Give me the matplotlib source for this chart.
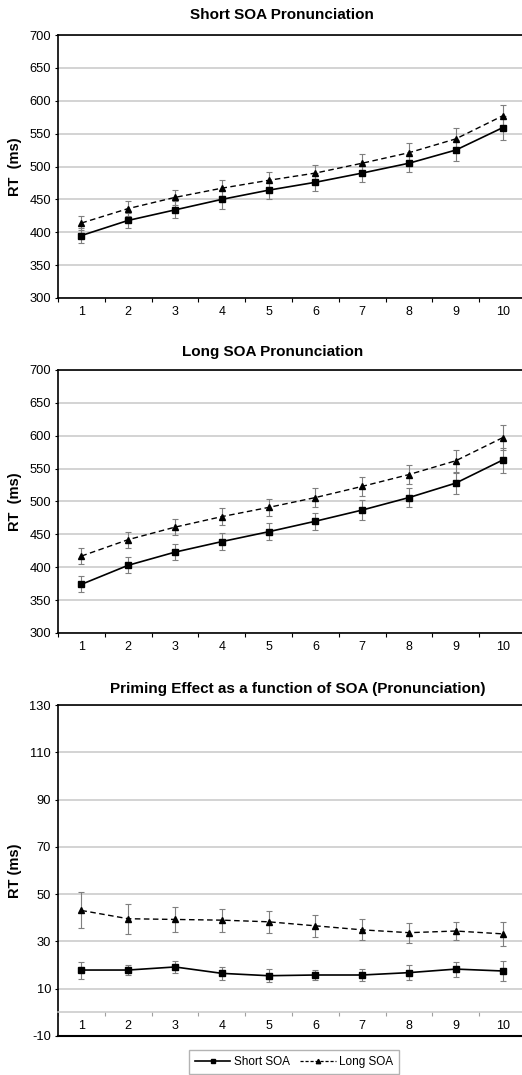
import numpy as np
import matplotlib
matplotlib.use("Agg")
import matplotlib.pyplot as plt
from matplotlib.lines import Line2D

plt.rcParams["font.family"] = ["Liberation Sans", "DejaVu Sans"]
plt.rcParams["axes.unicode_minus"] = False

# ── data ──────────────────────────────────────────────────────────────────────
positions = [1, 2, 3, 4, 5, 6, 7, 8, 9, 10]

short_pron_short = [395, 418, 434, 450, 464, 476, 490, 505, 525, 559]
short_pron_short_err = [12, 12, 13, 14, 14, 14, 14, 14, 16, 18]
short_pron_long = [414, 436, 453, 467, 479, 490, 505, 521, 542, 577]
short_pron_long_err = [11, 12, 12, 12, 12, 13, 14, 15, 17, 17]

long_pron_short = [374, 403, 423, 439, 454, 470, 487, 506, 528, 563]
long_pron_short_err = [12, 12, 12, 13, 13, 13, 15, 15, 16, 19]
long_pron_long = [417, 442, 461, 477, 491, 506, 523, 541, 562, 597]
long_pron_long_err = [12, 12, 12, 13, 13, 14, 14, 15, 17, 19]

prime_short = [17.9, 17.9, 19.2, 16.5, 15.5, 15.8, 15.8, 16.8, 18.3, 17.5]
prime_short_err = [3.6, 2.3, 2.7, 2.8, 2.7, 2.3, 2.5, 3.2, 3.2, 4.4]
prime_long = [43.1, 39.6, 39.3, 39.0, 38.3, 36.6, 34.9, 33.7, 34.4, 33.2]
prime_long_err = [7.6, 6.3, 5.4, 4.9, 4.6, 4.6, 4.4, 4.2, 4.0, 5.1]

titles = ["Short SOA Pronunciation", "Long SOA Pronunciation",
          "Priming Effect as a function of SOA (Pronunciation)"]

W, H = 522, 1075
GRID = "#c8c8c8"
ERR = "#7f7f7f"

fig = plt.figure(figsize=(W / 100, H / 100), dpi=100)


def px_axes(l, t, r, b):
    return fig.add_axes([l / W, 1 - b / H, (r - l) / W, (b - t) / H])


def draw_series(ax, y_short, e_short, y_long, e_long):
    ax.errorbar(positions, y_short, yerr=e_short, fmt="none", ecolor=ERR,
                elinewidth=0.8, capsize=2.5, capthick=0.8, zorder=3)
    ax.errorbar(positions, y_long, yerr=e_long, fmt="none", ecolor=ERR,
                elinewidth=0.8, capsize=2.5, capthick=0.8, zorder=3)
    ax.plot(positions, y_short, color="black", lw=1.2, marker="s",
            markersize=3.8, zorder=4)
    ax.plot(positions, y_long, color="black", lw=1.0, ls=(0, (4, 2.5)),
            marker="^", markersize=4, zorder=4)


def style(ax, ylim, yticks, ylabel="RT  (ms)"):
    ax.set_xlim(0.5, 10.5)
    ax.set_ylim(*ylim)
    ax.set_yticks(yticks)
    ax.set_xticks(positions)
    ax.set_xticks(np.arange(0.5, 11, 1.0), minor=True)
    ax.tick_params(axis="x", which="major", length=0, pad=5.5, labelsize=9)
    ax.tick_params(axis="x", which="minor", length=3, width=0.8,
                   direction="out")
    ax.tick_params(axis="y", length=2, width=0.8, pad=3, labelsize=9.3)
    ax.yaxis.grid(True, color=GRID, lw=1.1)
    ax.set_axisbelow(True)
    ax.spines["right"].set_visible(False)
    for s in ["left", "top", "bottom"]:
        ax.spines[s].set_linewidth(1.2)
    ax.set_ylabel(ylabel, fontsize=10.5, fontweight="bold", labelpad=5)


# ── top: short SOA ────────────────────────────────────────────────────────────
ax1 = px_axes(58, 35, 526, 298)
draw_series(ax1, short_pron_short, short_pron_short_err,
            short_pron_long, short_pron_long_err)
style(ax1, (300, 700), range(300, 701, 50))
fig.text(282 / W, 1 - 15 / H, titles[0], ha="center", va="center",
         fontsize=11, fontweight="bold")

# ── middle: long SOA ─────────────────────────────────────────────────────────
ax2 = px_axes(58, 370, 526, 633)
draw_series(ax2, long_pron_short, long_pron_short_err,
            long_pron_long, long_pron_long_err)
style(ax2, (300, 700), range(300, 701, 50))
fig.text(273 / W, 1 - 352 / H, titles[1], ha="center", va="center",
         fontsize=11, fontweight="bold")

# ── bottom: priming effect ───────────────────────────────────────────────────
ax3 = px_axes(58, 705, 526, 1036)
draw_series(ax3, prime_short, prime_short_err, prime_long, prime_long_err)
style(ax3, (-10, 130), range(-10, 131, 20), ylabel="RT (ms)")
ax3.spines["bottom"].set_position(("data", 0))
ax3.spines["bottom"].set_color(GRID)
ax3.spines["bottom"].set_linewidth(1.1)
ax3.tick_params(axis="x", which="minor", color="#a0a0a0")
ax3.axhline(-10, color="black", lw=1.5, clip_on=False, zorder=5)
fig.text(298 / W, 1 - 689 / H, titles[2], ha="center", va="center",
         fontsize=11, fontweight="bold")

# ── legend ───────────────────────────────────────────────────────────────────
handles = [
    Line2D([0], [0], color="black", lw=1.2, marker="s", markersize=3.5,
           label="Short SOA"),
    Line2D([0], [0], color="black", lw=0.9, ls=(0, (2.5, 1.5)), marker="^",
           markersize=3.2, label="Long SOA"),
]
fig.legend(handles=handles, loc="upper left",
           bbox_to_anchor=(189 / W, 1 - 1050 / H), ncol=2, fontsize=8.5,
           frameon=True, fancybox=False, edgecolor="#a0a0a0",
           handlelength=3.0, handletextpad=0.3, columnspacing=0.9,
           borderpad=0.5, borderaxespad=0)

fig.savefig("out.png", dpi=100)
